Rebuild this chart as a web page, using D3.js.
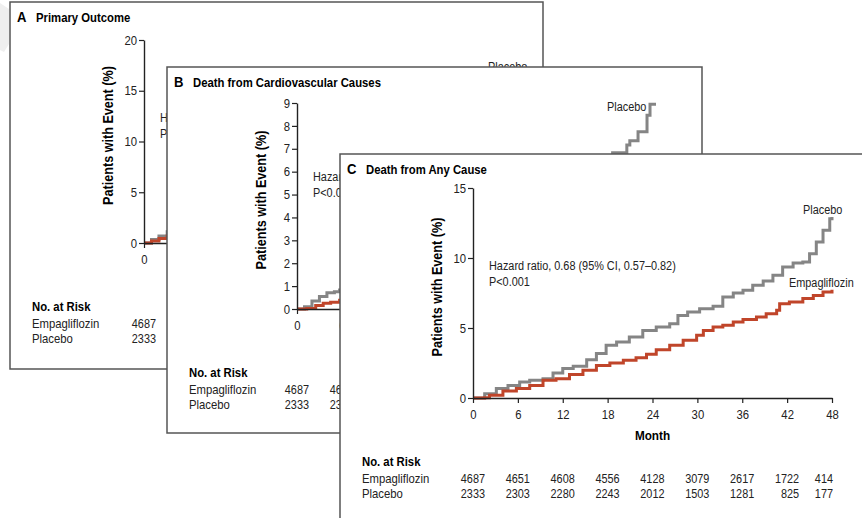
<!DOCTYPE html>
<html>
<head>
<meta charset="utf-8">
<script src="https://cdn.jsdelivr.net/npm/d3@7"></script>
<style>
  html, body { margin: 0; padding: 0; background: #fff; }
  svg { display: block; }
</style>
</head>
<body>
<script>
// Kaplan–Meier style cumulative incidence, three overlapping panels.
const monthTicks = [0, 6, 12, 18, 24, 30, 36, 42, 48];

// Panel A: primary outcome (% with event), [month, percent]
const aPlacebo = [[0,0],[1,0.35],[2,0.7],[3.1,1.1],[6,2.0],[12,3.9],[18,5.7],[24,7.6],[30,9.5],[36,11.5],[42,13.8],[48,16.5]];
const aEmpa    = [[0,0],[1,0.2],[2,0.45],[3.1,0.7],[6,1.6],[12,3.4],[18,5.0],[24,6.8],[30,8.4],[36,10.0],[42,11.9],[48,14.0]];
const aRiskEmpa    = [4687, 4580, 4455, 4328, 3851, 2821, 2359, 1534, 370];
const aRiskPlacebo = [2333, 2256, 2194, 2112, 1875, 1380, 1161, 741, 166];

// Panel B: death from cardiovascular causes
const bPlacebo = [[0,0],[1,0.1],[2,0.35],[3,0.55],[4,0.71],[5,0.75],[5.7,0.83],[12,1.8],[18,2.6],[24,3.5],[30,4.4],[36,5.3],[42.2,6.83],[44.1,7.16],[44.5,7.35],[45.6,7.74],[46.8,8.47],[47.2,8.95],[48,8.95]];
const bEmpa    = [[0,0],[1.3,0.02],[2.5,0.15],[3.5,0.25],[4.5,0.3],[5.7,0.38],[12,1.0],[18,1.5],[24,2.0],[30,2.6],[36,3.2],[42,3.8],[48,4.4]];
const bRiskEmpa    = [4687, 4651, 4608, 4556, 4128, 3079, 2617, 1722, 414];
const bRiskPlacebo = [2333, 2303, 2280, 2243, 2012, 1503, 1281, 825, 177];

// Panel C: death from any cause
const cPlacebo = [[0,0],[1.56,0.31],[3.12,0.67],[4.68,0.9],[6.24,1.14],[7.58,1.26],[9.36,1.38],[10.7,1.79],[12.0,2.1],[13.4,2.26],[15.2,2.74],[16.5,3.17],[17.8,3.76],[19.2,4.0],[20.9,4.36],[22.7,4.83],[24.5,5.07],[26.3,5.31],[27.4,5.9],[28.7,6.14],[30.3,6.38],[32.1,6.55],[33.4,7.21],[34.8,7.5],[36.1,7.69],[37.4,8.05],[38.8,8.36],[40.1,8.76],[41.4,9.36],[42.8,9.64],[44.1,9.71],[45.0,10.31],[45.9,11.14],[46.8,11.98],[47.7,12.81],[48,12.93]];
const cEmpa    = [[0,0],[1.56,0.02],[2.2,0.19],[4.0,0.5],[5.8,0.67],[7.58,0.9],[9.36,1.26],[11.1,1.38],[12.9,1.67],[14.7,1.98],[16.5,2.33],[18.3,2.5],[20.1,2.69],[21.8,2.88],[23.2,3.12],[24.5,3.45],[26.3,3.76],[28.1,4.12],[29.9,4.48],[30.8,4.83],[32.1,5.07],[33.4,5.19],[34.8,5.43],[36.1,5.6],[37.9,5.79],[39.2,6.02],[40.6,6.26],[41.0,6.74],[42.3,6.86],[44.1,7.1],[45.5,7.33],[46.8,7.57],[48,7.74]];
const cRiskEmpa    = [4687, 4651, 4608, 4556, 4128, 3079, 2617, 1722, 414];
const cRiskPlacebo = [2333, 2303, 2280, 2243, 2012, 1503, 1281, 825, 177];

const W = 862, H = 518;
const FONT = '"Liberation Sans",Arial,sans-serif';
const CONDENSE = 0.87;   // narrow the face to a condensed look
const INK = "#222";
const GRAY = "#858585";
const RED = "#c0452a";

const svg = d3.select("body").append("svg")
  .attr("width", W).attr("height", H)
  .style("font-family", FONT);

svg.append("rect").attr("width", W).attr("height", H).attr("fill", "#fff");
// faint scan smudge at the left edge
svg.append("polygon")
  .attr("points", "0,3 9,9 9,44 4,52 0,50")
  .attr("fill", "#efefef");

const panels = [];

function drawPanel(p) {
  const g = svg.append("g");
  panels.push({ g, box: p.box });
  g.append("rect")
    .attr("x", p.box[0]).attr("y", p.box[1])
    .attr("width", p.box[2]).attr("height", p.box[3])
    .attr("fill", "#fff").attr("stroke", "#555").attr("stroke-width", 1.5);

  const x = d3.scaleLinear().domain([0, 48]).range([p.x0, p.x1]);
  const y = d3.scaleLinear().domain([0, p.ymax]).range([p.y0, p.y1]);

  // title
  g.append("text").attr("x", p.box[0] + 7).attr("y", p.box[1] + 20)
    .attr("font-weight", "bold").attr("font-size", 15).attr("fill", "#000").text(p.letter);
  g.append("text").attr("x", p.box[0] + 26).attr("y", p.box[1] + 20)
    .attr("font-weight", "bold").attr("font-size", 13).attr("fill", "#000").text(p.title);

  // curves
  const line = d3.line().x(d => x(d[0])).y(d => y(d[1])).curve(d3.curveStepAfter);
  g.append("path").datum(p.placebo).attr("d", line)
    .attr("fill", "none").attr("stroke", GRAY).attr("stroke-width", 3);
  g.append("path").datum(p.empa).attr("d", line)
    .attr("fill", "none").attr("stroke", RED).attr("stroke-width", 3);

  // y axis
  const yTicks = d3.range(0, p.ymax + 0.001, p.ystep);
  const ya = g.append("g").attr("transform", `translate(${p.x0},0)`)
    .call(d3.axisLeft(y).tickValues(yTicks).tickSize(5).tickSizeOuter(0).tickPadding(2).tickFormat(d3.format("d")));
  // x axis
  const xa = g.append("g").attr("transform", `translate(0,${p.y0})`)
    .call(d3.axisBottom(x).tickValues(monthTicks).tickSize(5).tickSizeOuter(0).tickPadding(7).tickFormat(d3.format("d")));
  [ya, xa].forEach(a => {
    a.attr("font-family", FONT).attr("font-size", 13);
    a.select(".domain").attr("stroke", INK).attr("stroke-width", 1.4);
    a.selectAll(".tick line").attr("stroke", INK).attr("stroke-width", 1.2);
    a.selectAll(".tick text").attr("fill", INK);
  });

  // axis titles
  g.append("text")
    .attr("transform", `translate(${p.x0 - 31},${(p.y0 + p.y1) / 2 - 6}) rotate(-90)`)
    .attr("text-anchor", "middle").attr("font-weight", "bold").attr("font-size", 14.5)
    .attr("fill", "#000").text("Patients with Event (%)");
  g.append("text")
    .attr("x", (p.x0 + p.x1) / 2).attr("y", p.y0 + 42)
    .attr("text-anchor", "middle").attr("font-weight", "bold").attr("font-size", 13.5)
    .attr("fill", "#000").text("Month");

  // hazard ratio note
  g.append("text").attr("x", p.x0 + 16).attr("y", y(p.hrAt) + 4)
    .attr("font-size", 12.5).attr("fill", INK).text(p.hr);
  g.append("text").attr("x", p.x0 + 16).attr("y", y(p.hrAt) + 20)
    .attr("font-size", 12.5).attr("fill", INK).text(p.pval);

  // series labels
  const lastP = p.placebo[p.placebo.length - 1];
  const lastE = p.empa[p.empa.length - 1];
  g.append("text").attr("x", x(lastP[0]) + p.pLab[0]).attr("y", y(lastP[1]) + p.pLab[1])
    .attr("font-size", 12.5).attr("fill", INK).text("Placebo");
  g.append("text").attr("x", x(lastE[0]) + p.eLab[0]).attr("y", y(lastE[1]) + p.eLab[1])
    .attr("font-size", 12.5).attr("fill", INK).text("Empagliflozin");

  // numbers at risk
  const rx = p.box[0] + 22;
  const r0 = p.y0 + 68;
  g.append("text").attr("x", rx).attr("y", r0)
    .attr("font-weight", "bold").attr("font-size", 13).attr("fill", "#000").text("No. at Risk");
  const rows = [["Empagliflozin", p.riskEmpa], ["Placebo", p.riskPlacebo]];
  rows.forEach((r, i) => {
    const ry = r0 + 17 + i * 15;
    g.append("text").attr("x", rx).attr("y", ry)
      .attr("font-size", 13).attr("fill", INK).text(r[0]);
    g.selectAll(null).data(r[1]).join("text")
      .attr("x", (d, j) => x(monthTicks[j]) + (j === monthTicks.length - 1 ? 1 : 12))
      .attr("y", ry).attr("text-anchor", "end")
      .attr("font-size", 12.5).attr("fill", INK).text(d => d);
  });
}

drawPanel({
  letter: "A", title: "Primary Outcome",
  box: [10, 2, 533, 367],
  x0: 144, x1: 503, y0: 243, y1: 40, ymax: 20, ystep: 5,
  placebo: aPlacebo, empa: aEmpa,
  riskEmpa: aRiskEmpa, riskPlacebo: aRiskPlacebo,
  hr: "Hazard ratio, 0.86 (95.02% CI, 0.74\u20130.99)", pval: "P=0.04 for superiority", hrAt: 12.3,
  pLab: [-15, -5], eLab: [-30, 20]
});

drawPanel({
  letter: "B", title: "Death from Cardiovascular Causes",
  box: [167, 67, 535, 366],
  x0: 297, x1: 656, y0: 309, y1: 103, ymax: 9, ystep: 1,
  placebo: bPlacebo, empa: bEmpa,
  riskEmpa: bRiskEmpa, riskPlacebo: bRiskPlacebo,
  hr: "Hazard ratio, 0.62 (95% CI, 0.49\u20130.77)", pval: "P<0.001", hrAt: 5.75,
  pLab: [-49, 7], eLab: [-30, 20]
});

drawPanel({
  letter: "C", title: "Death from Any Cause",
  box: [340, 154, 600, 420],
  x0: 473, x1: 832, y0: 398, y1: 188, ymax: 15, ystep: 5,
  placebo: cPlacebo, empa: cEmpa,
  riskEmpa: cRiskEmpa, riskPlacebo: cRiskPlacebo,
  hr: "Hazard ratio, 0.68 (95% CI, 0.57\u20130.82)", pval: "P<0.001", hrAt: 9.4,
  pLab: [-29, -3], eLab: [-43, -3]
});

// Condense every label horizontally (keeps anchors intact).
svg.selectAll("text").each(function () {
  const w = this.getComputedTextLength();
  if (w > 0) d3.select(this).attr("textLength", w * CONDENSE).attr("lengthAdjust", "spacingAndGlyphs");
});

// Drop labels that sit wholly underneath a panel stacked above them.
const svgBox = svg.node().getBoundingClientRect();
panels.forEach((pn, i) => {
  const above = panels.slice(i + 1).map(q => q.box);
  pn.g.selectAll("text").each(function () {
    const b = this.getBoundingClientRect();
    const l = b.left - svgBox.left, t = b.top - svgBox.top;
    const covered = above.some(([bx, by, bw, bh]) =>
      l >= bx && t >= by && l + b.width <= bx + bw && t + b.height <= by + bh);
    if (covered) d3.select(this).remove();
  });
});
</script>
</body>
</html>
